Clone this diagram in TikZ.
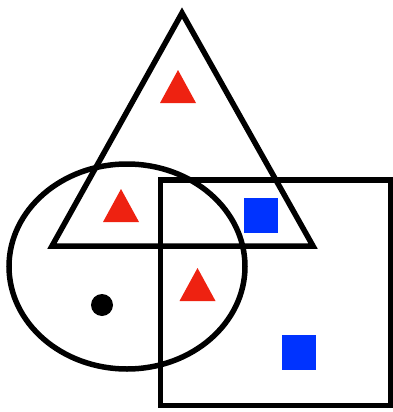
\documentclass[tikz,border=0pt]{standalone}
\usepackage{xcolor}
\usepackage{tikz}
\definecolor{markred}{RGB}{238,34,17}
\definecolor{markblue}{RGB}{0,51,255}

\begin{document}
\begin{tikzpicture}[x=1pt, y=-1pt, line width=5.5pt, line join=miter]
  \useasboundingbox (0,0) rectangle (393,412);
  % Big triangle
  \draw (182,13) -- (313,246) -- (52,246) -- cycle;
  % Ellipse
  \draw (127,266.5) ellipse [x radius=118, y radius=102.5];
  % Square
  \draw (160.5,180) rectangle (390.5,405.5);
  % Red triangles
  \foreach \x/\y in {178/70, 121/189, 197.5/268}{
    \fill[markred] (\x,\y) -- (\x+18,\y+33) -- (\x-18,\y+33) -- cycle;
  }
  % Blue squares
  \foreach \x/\y in {244/198, 282/335}{
    \fill[markblue] (\x,\y) rectangle ++(34,35);
  }
  % Dot
  \fill (102,305) circle [radius=11];
\end{tikzpicture}
\end{document}
